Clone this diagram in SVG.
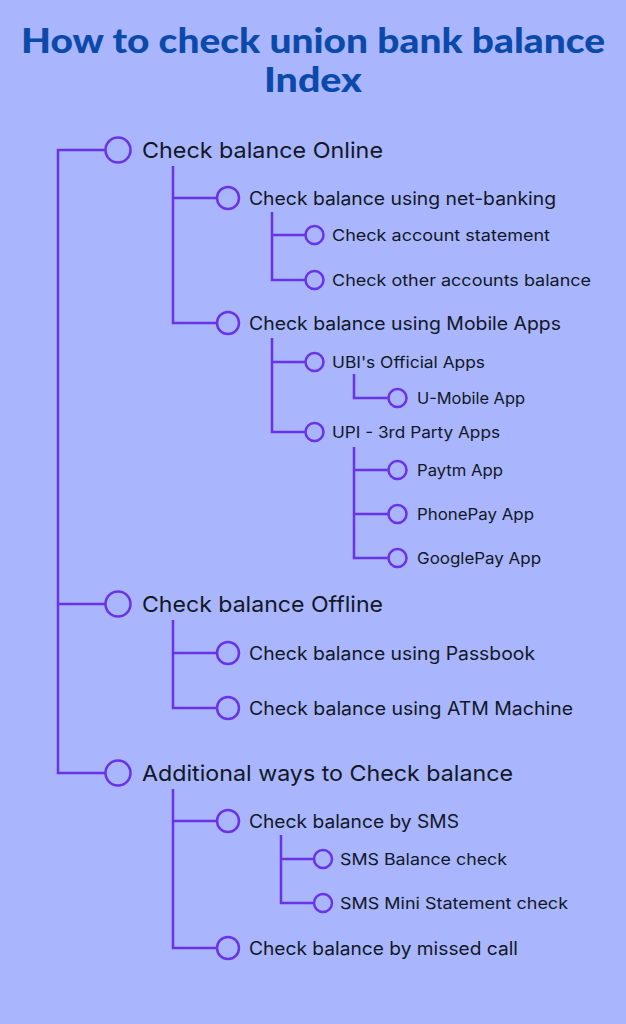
<svg xmlns="http://www.w3.org/2000/svg" width="626" height="1024" viewBox="0 0 626 1024">
<style>
.bg{fill:#a9b5fc}
.ln{fill:none;stroke:#6a33ea;stroke-width:2.5}
.c{fill:none;stroke:#6a33ea;stroke-width:2.5}
.title{font-family:"Lato","Liberation Sans",sans-serif;font-weight:900;font-size:35px;fill:#0b4aab}
.t1{font-family:"Inter","Liberation Sans",sans-serif;font-size:22px;fill:#111827}
.t2{font-family:"Inter","Liberation Sans",sans-serif;font-size:18px;fill:#111827}
.t3{font-family:"Inter","Liberation Sans",sans-serif;font-size:16px;fill:#111827}
</style>
<rect class="bg" width="626" height="1024"/>
<g id="title">
<text class="title" x="313" y="53" text-anchor="middle" textLength="584" lengthAdjust="spacingAndGlyphs">How to check union bank balance</text>
<text class="title" x="313" y="92" text-anchor="middle" textLength="98" lengthAdjust="spacingAndGlyphs">Index</text>
</g>
<g id="connectors">
<path class="ln" d="M105 150H58V773H105M58 604H105"/>
<path class="ln" d="M173 166V323H216M173 198H216"/>
<path class="ln" d="M173 620V708H216M173 653H216"/>
<path class="ln" d="M173 789V948H216M173 821H216"/>
<path class="ln" d="M272 212V280H305M272 235H305"/>
<path class="ln" d="M272 338V432H305M272 362H305"/>
<path class="ln" d="M354 374V398H388"/>
<path class="ln" d="M354 447V558H388M354 470H388M354 514H388"/>
<path class="ln" d="M281 835V903H314M281 859H314"/>
</g>
<g id="n-online"><circle class="c" cx="118" cy="150" r="12.5"/><text class="t1" x="142" y="158" textLength="241" lengthAdjust="spacingAndGlyphs">Check balance Online</text></g>
<g id="n-netbanking"><circle class="c" cx="228" cy="198" r="11"/><text class="t2" x="249" y="204.5" textLength="307" lengthAdjust="spacingAndGlyphs">Check balance using net-banking</text></g>
<g id="n-statement"><circle class="c" cx="314.5" cy="235" r="9"/><text class="t3" x="332" y="241" textLength="218" lengthAdjust="spacingAndGlyphs">Check account statement</text></g>
<g id="n-other"><circle class="c" cx="314.5" cy="280" r="9"/><text class="t3" x="332" y="286" textLength="259" lengthAdjust="spacingAndGlyphs">Check other accounts balance</text></g>
<g id="n-mobile"><circle class="c" cx="228" cy="323" r="11"/><text class="t2" x="249" y="329.5" textLength="312" lengthAdjust="spacingAndGlyphs">Check balance using Mobile Apps</text></g>
<g id="n-ubi"><circle class="c" cx="314.5" cy="362" r="9"/><text class="t3" x="332" y="368" textLength="153" lengthAdjust="spacingAndGlyphs">UBI's Official Apps</text></g>
<g id="n-umobile"><circle class="c" cx="397.5" cy="398" r="9"/><text class="t3" x="417" y="404" textLength="108" lengthAdjust="spacingAndGlyphs">U-Mobile App</text></g>
<g id="n-upi"><circle class="c" cx="314.5" cy="432" r="9"/><text class="t3" x="332" y="438" textLength="168" lengthAdjust="spacingAndGlyphs">UPI - 3rd Party Apps</text></g>
<g id="n-paytm"><circle class="c" cx="397.5" cy="470" r="9"/><text class="t3" x="417" y="476" textLength="86" lengthAdjust="spacingAndGlyphs">Paytm App</text></g>
<g id="n-phonepay"><circle class="c" cx="397.5" cy="514" r="9"/><text class="t3" x="417" y="520" textLength="117" lengthAdjust="spacingAndGlyphs">PhonePay App</text></g>
<g id="n-googlepay"><circle class="c" cx="397.5" cy="558" r="9"/><text class="t3" x="417" y="564" textLength="124" lengthAdjust="spacingAndGlyphs">GooglePay App</text></g>
<g id="n-offline"><circle class="c" cx="118" cy="604" r="12.5"/><text class="t1" x="142" y="612" textLength="241" lengthAdjust="spacingAndGlyphs">Check balance Offline</text></g>
<g id="n-passbook"><circle class="c" cx="228" cy="653" r="11"/><text class="t2" x="249" y="659.5" textLength="286" lengthAdjust="spacingAndGlyphs">Check balance using Passbook</text></g>
<g id="n-atm"><circle class="c" cx="228" cy="708" r="11"/><text class="t2" x="249" y="714.5" textLength="324" lengthAdjust="spacingAndGlyphs">Check balance using ATM Machine</text></g>
<g id="n-additional"><circle class="c" cx="118" cy="773" r="12.5"/><text class="t1" x="142" y="781" textLength="371" lengthAdjust="spacingAndGlyphs">Additional ways to Check balance</text></g>
<g id="n-sms"><circle class="c" cx="228" cy="821" r="11"/><text class="t2" x="249" y="827.5" textLength="210" lengthAdjust="spacingAndGlyphs">Check balance by SMS</text></g>
<g id="n-smsbal"><circle class="c" cx="323" cy="859" r="9"/><text class="t3" x="340" y="865" textLength="167" lengthAdjust="spacingAndGlyphs">SMS Balance check</text></g>
<g id="n-smsmini"><circle class="c" cx="323" cy="903" r="9"/><text class="t3" x="340" y="909" textLength="228" lengthAdjust="spacingAndGlyphs">SMS Mini Statement check</text></g>
<g id="n-missed"><circle class="c" cx="228" cy="948" r="11"/><text class="t2" x="249" y="954.5" textLength="269" lengthAdjust="spacingAndGlyphs">Check balance by missed call</text></g>
</svg>
